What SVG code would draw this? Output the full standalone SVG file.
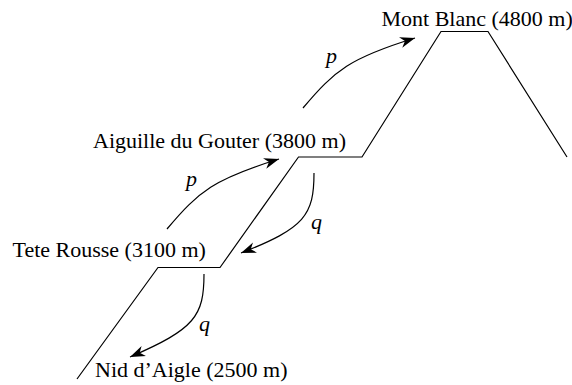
<svg xmlns="http://www.w3.org/2000/svg" width="572" height="385" viewBox="0 0 572 385">
<style>
.lbl{font-family:"Liberation Serif","Times New Roman",serif;font-size:22px;fill:#000}
.it{font-family:"Liberation Serif","Times New Roman",serif;font-size:22px;font-style:italic;fill:#000}
.ln{fill:none;stroke:#000;stroke-width:1.2}
.arr{fill:none;stroke:#000;stroke-width:1.2;marker-end:url(#ah)}
</style>
<defs>
<marker id="ah" markerUnits="userSpaceOnUse" markerWidth="20" markerHeight="14" viewBox="-16 -7 18 14" refX="0" refY="0" orient="auto">
<path d="M0,0 L-15,-5.5 L-10.5,0 L-15,5.5 Z" fill="#000"/>
</marker>
</defs>
<g id="mountain">
<path class="ln" d="M77,379 L158,267.5 L220,267.5 L298.5,157 L362,157 L441,31.5 L488,31.5 L567,157"/>
</g>
<g id="connectors">
<path class="arr" d="M303,108 C335,70 350,58 415,38"/>
<path class="arr" d="M167,229 C199,191 214,179 279,159"/>
<path class="arr" d="M314,173 C314,215 305,228 241,253"/>
<path class="arr" d="M204,274 C204,316 195,329 130,357"/>
</g>
<g id="labels-edges">
<text class="it" x="326" y="63">p</text>
<text class="it" x="186" y="186">p</text>
<text class="it" x="311" y="229">q</text>
<text class="it" x="199" y="331">q</text>
</g>
<g id="mont-blanc"><text class="lbl" x="381.5" y="26">Mont Blanc (4800 m)</text></g>
<g id="aiguille"><text class="lbl" x="93" y="148">Aiguille du Gouter (3800 m)</text></g>
<g id="tete-rousse"><text class="lbl" x="12.5" y="257">Tete Rousse (3100 m)</text></g>
<g id="nid-daigle"><text class="lbl" x="95" y="377">Nid d’Aigle (2500 m)</text></g>
</svg>
